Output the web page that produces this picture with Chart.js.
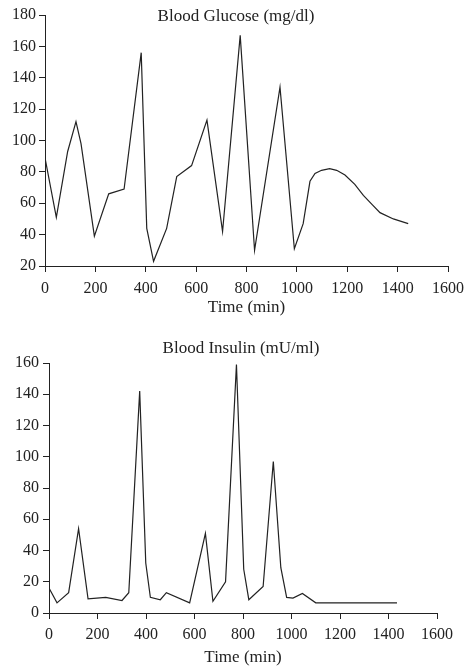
<!DOCTYPE html>
<html>
<head>
<meta charset="utf-8">
<script src="https://cdn.jsdelivr.net/npm/chart.js@4.4.0/dist/chart.umd.min.js"></script>
<style>
  body { margin: 0; background: #fff; }
  .box { position: absolute; left: 0; }
</style>
</head>
<body>
<div class="box" style="top:0"><canvas id="glucose" width="471" height="330"></canvas></div>
<div class="box" style="top:330px"><canvas id="insulin" width="471" height="339"></canvas></div>
<script>
// glucose (mg/dl) vs time (min)
var glucoseTime = [0, 45, 90, 123, 143, 196, 253, 314, 382, 404, 431, 483, 523, 582, 643, 705, 775, 832, 933, 990, 1025, 1052, 1072, 1098, 1130, 1158, 1191, 1230, 1264, 1300, 1330, 1383, 1442];
var glucoseValues = [89, 51, 93, 112, 98, 39, 66, 69, 156, 44, 23, 44, 77, 84, 113, 42, 167, 30, 134, 31, 47, 74, 79, 81, 82, 81, 78, 72, 65, 59, 54, 50, 47];

// insulin (mU/ml) vs time (min)
var insulinTime = [0, 33, 81, 122, 161, 234, 301, 329, 374, 399, 418, 459, 484, 580, 645, 676, 728, 773, 803, 824, 883, 925, 956, 980, 1006, 1045, 1100, 1435];
var insulinValues = [16, 6.5, 13, 54, 9, 10, 8, 13, 142, 32, 10, 8.5, 13, 6.5, 51, 7.5, 20, 159, 28, 8.5, 17, 97, 29, 10, 9.5, 12.5, 6.5, 6.5];

var xTicks = [0, 200, 400, 600, 800, 1000, 1200, 1400, 1600];

var ink = '#222';
var serif = '"Liberation Serif", "DejaVu Serif", serif';

function toPoints(xs, ys) {
    return xs.map((x, i) => ({x: x, y: ys[i]}));
}

// draws the heading at a fixed spot (it sits on top of the plot in the top panel)
function headingPlugin(text, x, y) {
    return {
        id: 'heading',
        afterDraw: (chart) => {
            let ctx = chart.ctx;
            ctx.save();
            ctx.fillStyle = ink;
            ctx.font = '17px ' + serif;
            ctx.textAlign = 'center';
            ctx.textBaseline = 'alphabetic';
            ctx.fillText(text, x, y);
            ctx.restore();
        }
    };
}

function makeChart(id, xs, ys, cfg) {
    return new Chart(document.getElementById(id).getContext('2d'), {
        type: 'line',
        data: {
            datasets: [{
                data: toPoints(xs, ys),
                borderColor: ink,
                borderWidth: 1.2,
                pointRadius: 0,
                tension: 0,
                fill: false
            }]
        },
        options: {
            responsive: false,
            animation: false,
            layout: { padding: cfg.padding },
            plugins: {
                legend: { display: false },
                tooltip: { enabled: false }
            },
            scales: {
                x: {
                    type: 'linear',
                    min: 0,
                    max: 1600,
                    afterBuildTicks: (s) => { s.ticks = xTicks.map(v => ({value: v})); },
                    ticks: {
                        color: ink, font: { family: serif, size: 16 }, padding: cfg.xPad, maxRotation: 0,
                        callback: (v) => String(v)
                    },
                    grid: { drawOnChartArea: false, tickLength: 6, color: ink },
                    border: { color: ink, width: 1 },
                    title: {
                        display: true,
                        text: 'Time (min)',
                        color: ink,
                        font: { family: serif, size: 17 },
                        padding: { top: 0, bottom: cfg.titlePad }
                    },
                    afterFit: (s) => { s.height = cfg.xHeight; }
                },
                y: {
                    min: cfg.yMin,
                    max: cfg.yMax,
                    ticks: {
                        stepSize: 20, color: ink, font: { family: serif, size: 16 }, padding: cfg.yPad,
                        callback: (v) => String(v)
                    },
                    grid: { drawOnChartArea: false, tickLength: 6, color: ink },
                    border: { color: ink, width: 1 },
                    afterFit: (s) => { s.width = cfg.yWidth; }
                }
            }
        },
        plugins: [headingPlugin(cfg.heading, cfg.hx, cfg.hy)]
    });
}

var glucoseChart = makeChart('glucose', glucoseTime, glucoseValues, {
    padding: { top: 15, right: 23, left: 0, bottom: 0 },
    yMin: 20, yMax: 180, yWidth: 45, yPad: 3,
    xHeight: 64, xPad: 7, titlePad: 12,
    heading: 'Blood Glucose (mg/dl)', hx: 236, hy: 21
});

var insulinChart = makeChart('insulin', insulinTime, insulinValues, {
    padding: { top: 33, right: 34, left: 0, bottom: 0 },
    yMin: 0, yMax: 160, yWidth: 49, yPad: 4,
    xHeight: 56, xPad: 6, titlePad: 1,
    heading: 'Blood Insulin (mU/ml)', hx: 241, hy: 23
});
</script>
</body>
</html>
